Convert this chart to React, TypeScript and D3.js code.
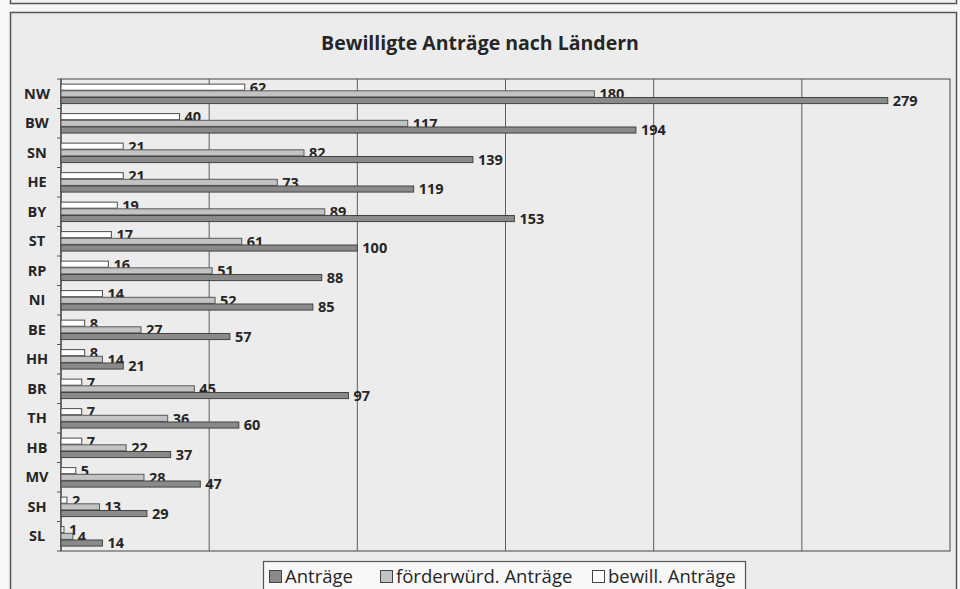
import React, { useEffect, useRef } from "react";
import * as d3 from "d3";

// Bundesländer, von oben nach unten
const laender = ["NW", "BW", "SN", "HE", "BY", "ST", "RP", "NI", "BE", "HH", "BR", "TH", "HB", "MV", "SH", "SL"];

const bewilligt = [62, 40, 21, 21, 19, 17, 16, 14, 8, 8, 7, 7, 7, 5, 2, 1];
const foerderwuerdig = [180, 117, 82, 73, 89, 61, 51, 52, 27, 14, 45, 36, 22, 28, 13, 4];
const antraege = [279, 194, 139, 119, 153, 100, 88, 85, 57, 21, 97, 60, 37, 47, 29, 14];

const xTicks = [50, 100, 150, 200, 250];

const series = [
  { key: "bewill", label: "bewill. Anträge", values: bewilligt, fill: "#ffffff", stroke: "#4d4d4d" },
  { key: "foerder", label: "förderwürd. Anträge", values: foerderwuerdig, fill: "#c3c3c3", stroke: "#5a5a5a" },
  { key: "antraege", label: "Anträge", values: antraege, fill: "#8a8a8a", stroke: "#444" },
];

const legendOrder = ["antraege", "foerder", "bewill"];

const App = () => {
  const ref = useRef<SVGSVGElement>(null);

  useEffect(() => {
    const svg = d3.select(ref.current);
    svg.selectAll("*").remove();

    const width = 960;
    const height = 589;
    const margin = { top: 79, right: 10, bottom: 38, left: 61 };
    const plotRight = 950;
    const plotBottom = height - margin.bottom;
    const font = "'Open Sans', 'DejaVu Sans', sans-serif";
    const textColor = "#262626";

    // page + frames
    svg.append("rect").attr("width", width).attr("height", height).attr("fill", "#f7f7f7");
    svg
      .append("rect")
      .attr("x", 10.5)
      .attr("y", -20)
      .attr("width", 946)
      .attr("height", 23.5)
      .attr("fill", "#f2f2f2")
      .attr("stroke", "#555")
      .attr("stroke-width", 1.5);
    svg
      .append("rect")
      .attr("x", 10.5)
      .attr("y", 12.5)
      .attr("width", 946)
      .attr("height", 600)
      .attr("fill", "#ececec")
      .attr("stroke", "#555")
      .attr("stroke-width", 1.5);

    // title
    svg
      .append("text")
      .attr("x", 480)
      .attr("y", 50)
      .attr("text-anchor", "middle")
      .style("font-family", font)
      .style("font-size", "19.5px")
      .style("font-weight", "bold")
      .style("fill", textColor)
      .text("Bewilligte Anträge nach Ländern");

    const x = d3.scaleLinear().domain([0, 300]).range([margin.left, plotRight]);

    const y = d3
      .scaleBand()
      .domain(laender)
      .range([margin.top, plotBottom])
      .paddingInner(0.32)
      .paddingOuter(0.16);

    const ySub = d3
      .scaleBand()
      .domain(series.map((s) => s.key))
      .range([0, y.bandwidth()]);

    // plot border + grid
    svg
      .append("rect")
      .attr("x", margin.left)
      .attr("y", margin.top)
      .attr("width", plotRight - margin.left)
      .attr("height", plotBottom - margin.top)
      .attr("fill", "none")
      .attr("stroke", "#555")
      .attr("stroke-width", 1.1);

    svg
      .selectAll(".grid")
      .data(xTicks)
      .join("line")
      .attr("class", "grid")
      .attr("x1", (d) => x(d))
      .attr("x2", (d) => x(d))
      .attr("y1", margin.top)
      .attr("y2", plotBottom)
      .attr("stroke", "#5c5c5c")
      .attr("stroke-width", 1);

    // y axis with ticks between categories
    const step = y.step();
    const tickYs = d3.range(laender.length + 1).map((i) => margin.top + i * step);
    svg
      .selectAll(".ytick")
      .data(tickYs)
      .join("line")
      .attr("class", "ytick")
      .attr("x1", margin.left - 4)
      .attr("x2", margin.left)
      .attr("y1", (d) => d)
      .attr("y2", (d) => d)
      .attr("stroke", "#555");
    svg
      .append("line")
      .attr("x1", margin.left)
      .attr("x2", margin.left)
      .attr("y1", margin.top)
      .attr("y2", plotBottom)
      .attr("stroke", "#4a4a4a")
      .attr("stroke-width", 1.2);

    svg
      .selectAll(".cat")
      .data(laender)
      .join("text")
      .attr("class", "cat")
      .attr("x", 37)
      .attr("y", (d) => (y(d) as number) + y.bandwidth() / 2 + 5)
      .attr("text-anchor", "middle")
      .style("font-family", font)
      .style("font-size", "14.5px")
      .style("font-weight", "bold")
      .style("fill", textColor)
      .text((d) => d);

    // bars + value labels
    series.forEach((s) => {
      const g = svg.append("g");
      g.selectAll("rect")
        .data(laender)
        .join("rect")
        .attr("x", x(0))
        .attr("y", (d) => (y(d) as number) + (ySub(s.key) as number) + 0.4)
        .attr("width", (d, i) => x(s.values[i]) - x(0))
        .attr("height", ySub.bandwidth() - 0.6)
        .attr("fill", s.fill)
        .attr("stroke", s.stroke)
        .attr("stroke-width", 1);

      g.selectAll("text")
        .data(laender)
        .join("text")
        .attr("x", (d, i) => x(s.values[i]) + 5)
        .attr("y", (d) => (y(d) as number) + (ySub(s.key) as number) + ySub.bandwidth() / 2 + 5.5)
        .style("font-family", font)
        .style("font-size", "14.5px")
        .style("font-weight", "bold")
        .style("fill", textColor)
        .text((d, i) => s.values[i]);
    });

    // legend
    const legend = svg.append("g");
    legend
      .append("rect")
      .attr("x", 263.5)
      .attr("y", 561.5)
      .attr("width", 482)
      .attr("height", 40)
      .attr("fill", "#f8f8f8")
      .attr("stroke", "#555")
      .attr("stroke-width", 1.2);

    const legendX = [269, 380, 592];
    legendOrder.forEach((key, i) => {
      const s = series.find((d) => d.key === key)!;
      legend
        .append("rect")
        .attr("x", legendX[i] + 0.5)
        .attr("y", 570.5)
        .attr("width", 12)
        .attr("height", 12)
        .attr("fill", s.fill)
        .attr("stroke", "#444")
        .attr("stroke-width", 1);
      legend
        .append("text")
        .attr("x", legendX[i] + 16)
        .attr("y", 583)
        .style("font-family", font)
        .style("font-size", "18.5px")
        .style("fill", textColor)
        .text(s.label);
    });
  }, []);

  return (
    <svg
      ref={ref}
      width="960"
      height="589"
      style={{ position: "absolute", left: 0, top: 0, display: "block" }}
    ></svg>
  );
};

export default App;
